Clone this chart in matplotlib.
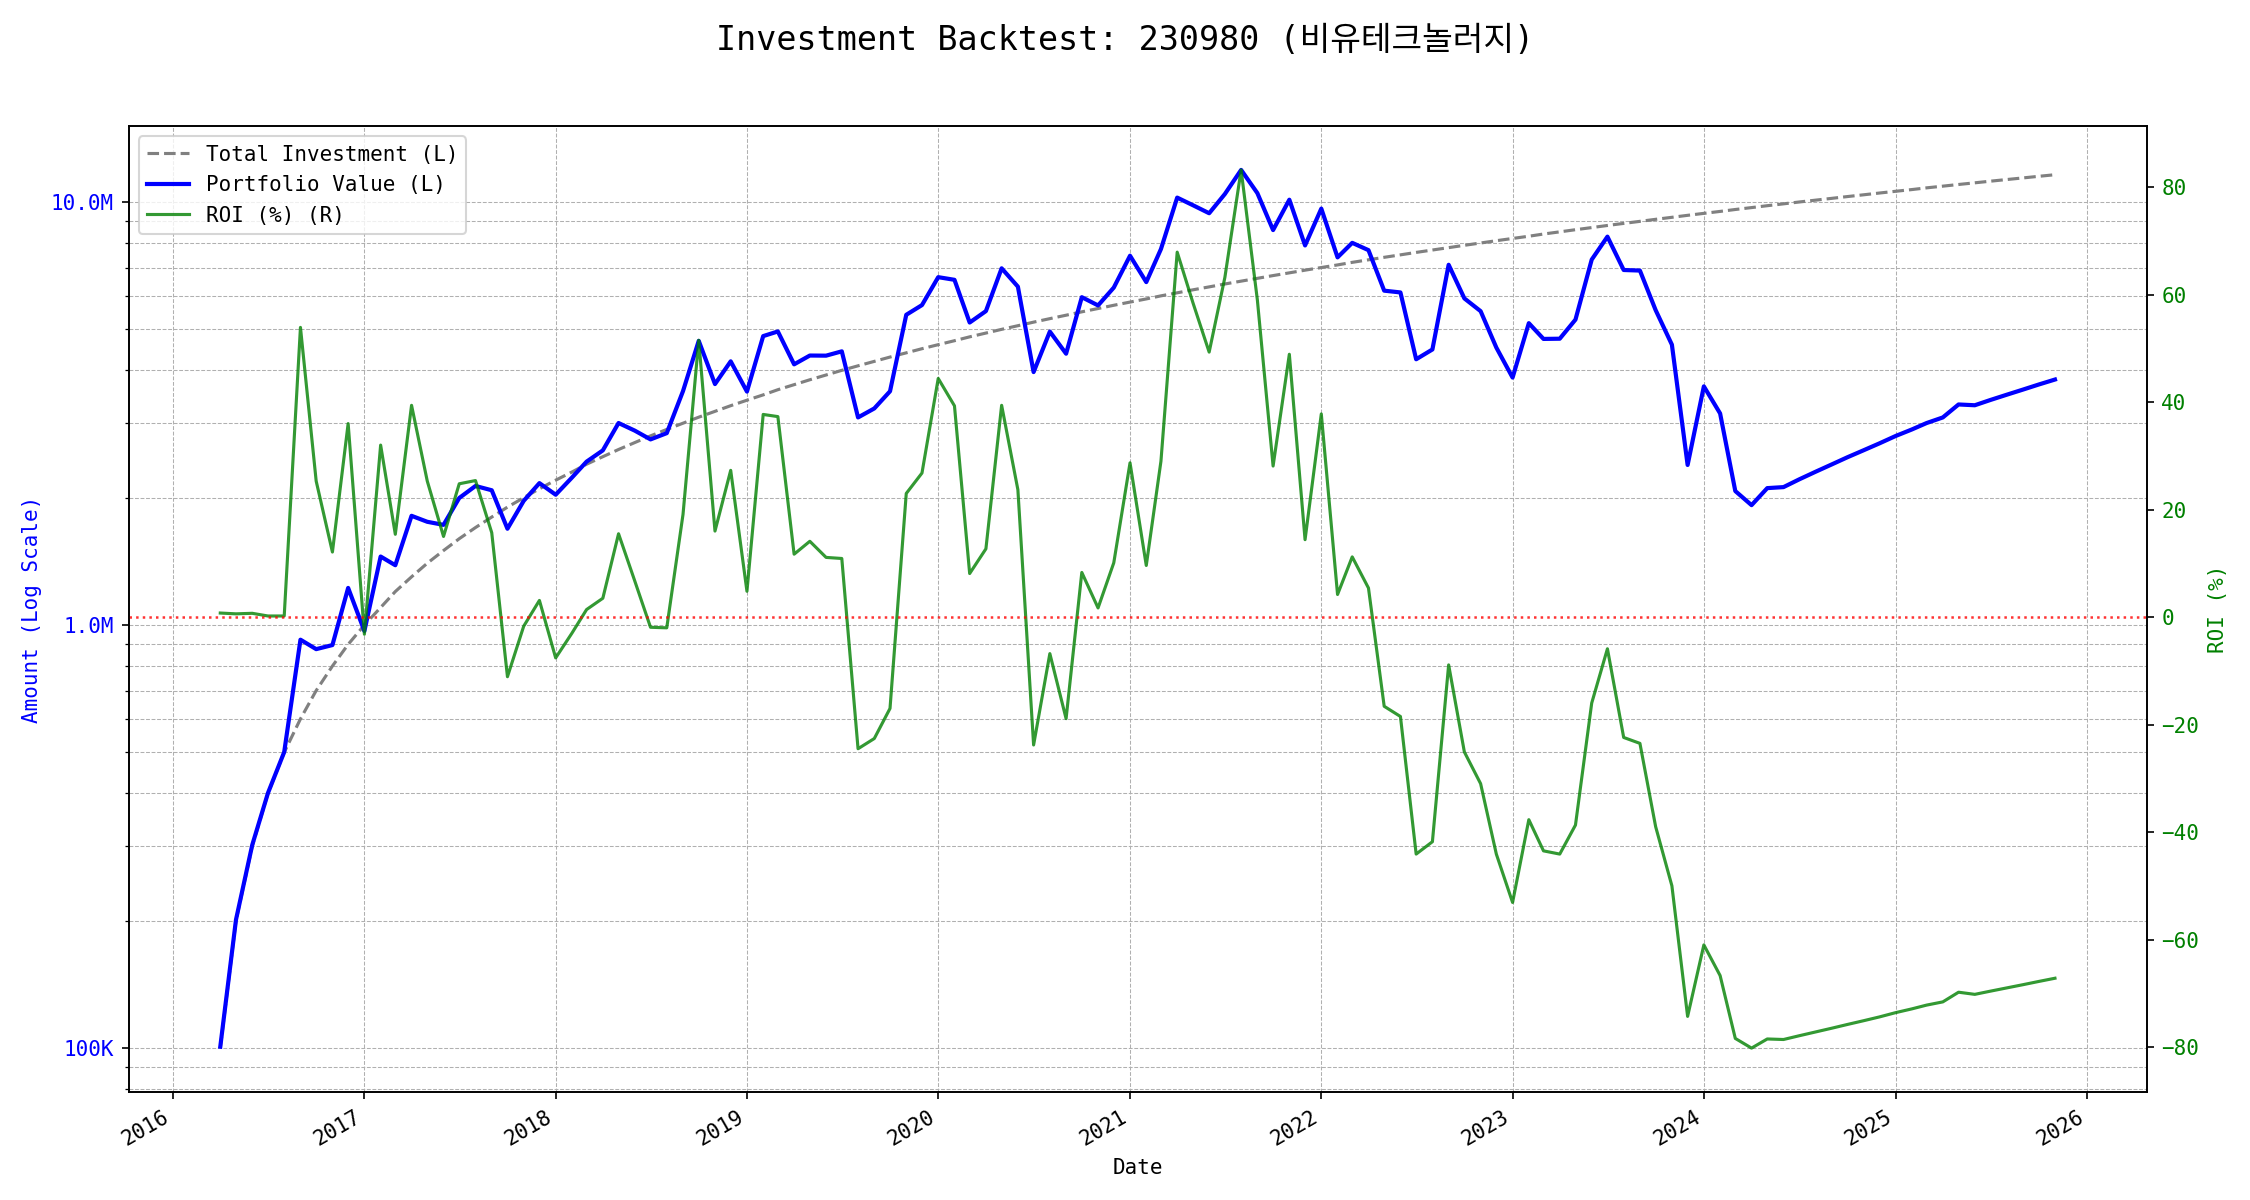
import matplotlib
matplotlib.use("Agg")
import matplotlib.pyplot as plt
import matplotlib.dates as mdates
from matplotlib.ticker import FuncFormatter, NullFormatter
import numpy as np
import pandas as pd

plt.rcParams['font.family'] = ['DejaVu Sans Mono', 'Noto Sans CJK KR']

title = "Investment Backtest: 230980 (비유테크놀러지)"
start_month = "2016-04-01"
monthly_contribution = 100000

roi_pct = [
    # 2016 Apr-Dec
    0.75, 0.6, 0.7, 0.2, 0.2, 53.9, 25.3, 12.1, 36.0,
    # 2017
    -3.2, 32.0, 15.4, 39.4, 25.3, 15.0, 24.8, 25.4, 15.7, -11.1, -1.7, 3.1,
    # 2018
    -7.6, -3.0, 1.4, 3.5, 15.5, 6.7, -1.9, -2.0, 19.1, 51.5, 16.0, 27.3,
    # 2019
    4.8, 37.7, 37.3, 11.7, 14.1, 11.1, 10.9, -24.5, -22.6, -17.0, 23.0, 26.8,
    # 2020
    44.4, 39.3, 8.1, 12.7, 39.4, 23.7, -23.8, -6.8, -18.9, 8.3, 1.7, 10.1,
    # 2021
    28.7, 9.6, 29.0, 67.9, 58.5, 49.3, 63.2, 83.2, 59.0, 28.1, 48.9, 14.4,
    # 2022
    37.8, 4.2, 11.2, 5.4, -16.6, -18.5, -44.1, -41.8, -8.9, -25.1, -31.0, -44.1,
    # 2023
    -53.1, -37.7, -43.5, -44.1, -38.7, -16.0, -5.9, -22.4, -23.5, -39.0, -50.0, -74.3,
    # 2024
    -61.0, -66.7, -78.4, -80.2, -78.5, -78.6, -77.9, -77.2, -76.5, -75.8, -75.1, -74.4,
    # 2025 Jan-Nov
    -73.6, -72.9, -72.2, -71.6, -69.8, -70.2, -69.6, -69.0, -68.4, -67.8, -67.2,
]

dates = pd.date_range(start_month, periods=len(roi_pct), freq="MS")
contributions = np.full(len(roi_pct), monthly_contribution, dtype=float)
total_investment = np.cumsum(contributions)
roi = np.array(roi_pct)
portfolio_value = total_investment * (1 + roi / 100.0)

fig, ax1 = plt.subplots(figsize=(15, 8), dpi=150)

l1, = ax1.plot(dates, total_investment, color='gray', linestyle='--', linewidth=1.5,
               label='Total Investment (L)')
l2, = ax1.plot(dates, portfolio_value, color='blue', linewidth=2,
               label='Portfolio Value (L)')
ax1.set_yscale('log')
ax1.set_xlabel('Date')
ax1.set_ylabel('Amount (Log Scale)', color='blue')
ax1.tick_params(axis='y', labelcolor='blue')


def fmt_amount(x, pos):
    if x >= 1e6:
        return f'{x/1e6:.1f}M'
    return f'{x/1e3:.0f}K'


ax1.yaxis.set_major_formatter(FuncFormatter(fmt_amount))
ax1.yaxis.set_minor_formatter(NullFormatter())
ax1.grid(True, which='both', linestyle='--', linewidth=0.5, color='#b0b0b0')

ax2 = ax1.twinx()
l3, = ax2.plot(dates, roi, color='green', alpha=0.8, linewidth=1.5, label='ROI (%) (R)')
ax2.axhline(0, color='red', linestyle=':', linewidth=1.2, alpha=0.8)
ax2.set_ylabel('ROI (%)', color='green')
ax2.tick_params(axis='y', labelcolor='green')

ax1.xaxis.set_major_locator(mdates.YearLocator())
ax1.xaxis.set_major_formatter(mdates.DateFormatter('%Y'))

ax2.legend([l1, l2, l3], [l1.get_label(), l2.get_label(), l3.get_label()], loc='upper left')

fig.suptitle(title, fontsize=16)
fig.autofmt_xdate()
fig.tight_layout()
fig.subplots_adjust(top=0.895)
fig.savefig('out.png', dpi=150)
